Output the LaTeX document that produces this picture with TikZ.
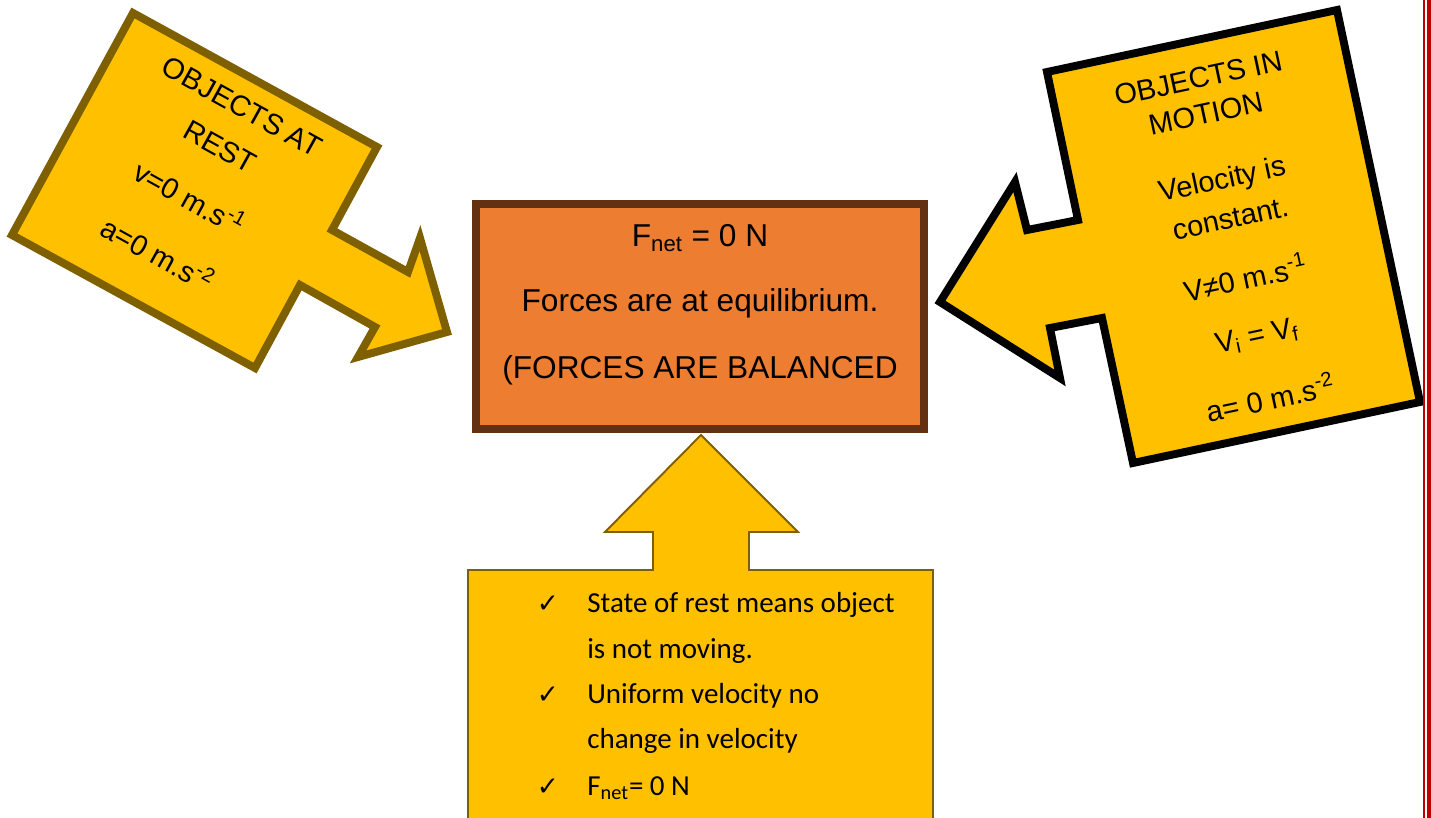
\documentclass[tikz,border=0pt]{standalone}
\usepackage{fontspec}
\setmainfont{Liberation Sans}
\newfontfamily\calibri{Carlito}
\newfontfamily\dejavu{DejaVu Sans}

\definecolor{goldfill}{HTML}{FFC000}
\definecolor{goldline}{HTML}{7F6000}
\definecolor{netfill}{HTML}{ED7D31}
\definecolor{netline}{RGB}{99,49,17}
\definecolor{marginred}{HTML}{C00000}

\begin{document}
\begin{tikzpicture}[x=0.02cm,y=-0.02cm,
  restarrow/.style={draw=goldline,line width=4.5pt,fill=goldfill},
  motionarrow/.style={draw=black,line width=4.5pt,fill=goldfill},
  notearrow/.style={draw=goldline,line width=1.1pt,fill=goldfill},
  tilted/.style={inner sep=0pt,align=center,font=\fontsize{16.5}{26}\selectfont},
  midtext/.style={inner sep=0pt,font=\fontsize{18}{22}\selectfont},
  listtext/.style={inner sep=0pt,anchor=base west,font=\calibri\fontsize{16.5}{20}\selectfont},
  tick/.style={inner sep=0pt,anchor=base,font=\dejavu\fontsize{15}{18}\selectfont}]
\clip (0,0) rectangle (1431,818);

% objects at rest
\draw[restarrow] (133,13) -- (377,147) -- (332,230) -- (408,272) -- (420,238)
  -- (447,332) -- (358,357) -- (375,327) -- (300,285) -- (255,368) -- (12,235) -- cycle;
\node[tilted,rotate=-29] (restTitle) at (231,127) {OBJECTS AT\\REST};
\node[tilted,rotate=-29] (restV) at (190,197) {v=0 m.s\textsuperscript{-1}};
\node[tilted,rotate=-29] (restA) at (158,253) {a=0 m.s\textsuperscript{-2}};

% objects in motion
\draw[motionarrow] (1047,72) -- (1337,10) -- (1420,402) -- (1133,463) -- (1102,318)
  -- (1050,328) -- (1060,378) -- (940,302) -- (1015,182) -- (1027,230) -- (1078,220) -- cycle;
\node[tilted,rotate=12,font=\fontsize{16.5}{20.7}\selectfont] (motTitle) at (1202,96) {OBJECTS IN\\MOTION};
\node[tilted,rotate=12,font=\fontsize{16.5}{23}\selectfont] (motVel) at (1226,198) {Velocity is\\constant.};
\node[tilted,rotate=12] (motV) at (1245,277) {V≠0 m.s\textsuperscript{-1}};
\node[tilted,rotate=12] (motVi) at (1257,337) {V\textsubscript{i} = V\textsubscript{f}};
\node[tilted,rotate=12] (motA) at (1270,397) {a= 0 m.s\textsuperscript{-2}};

% net force box
\node[draw=netline,line width=4.5pt,fill=netfill,minimum width=8.96cm,minimum height=4.5cm] (net) at (700,316.5) {};
\node[midtext] (fnet) at (700,238) {F\textsubscript{net} = 0 N};
\node[midtext] (equil) at (700,303) {Forces are at equilibrium.};
\node[midtext] (bal) at (700,370) {(FORCES ARE BALANCED};

% notes arrow
\draw[notearrow] (701,435) -- (798,532) -- (749,532) -- (749,570) -- (933,570) -- (933,830)
  -- (468,830) -- (468,570) -- (653,570) -- (653,532) -- (605,532) -- cycle;
\foreach \y in {612,703,795}
  \node[tick] (tick\y) at (548,\y) {✓};
\node[listtext] (n1) at (587,612) {State of rest means object};
\node[listtext] (n2) at (587,658) {is not moving.};
\node[listtext] (n3) at (587,703) {Uniform velocity no};
\node[listtext] (n4) at (587,748) {change in velocity};
\node[listtext] (n5) at (587,795) {F\textsubscript{net}= 0 N};

% page margin
\draw[marginred,line width=1.1pt] (1424.3,0) -- (1424.3,818);
\draw[marginred,line width=2.1pt] (1429.2,0) -- (1429.2,818);
\end{tikzpicture}
\end{document}
